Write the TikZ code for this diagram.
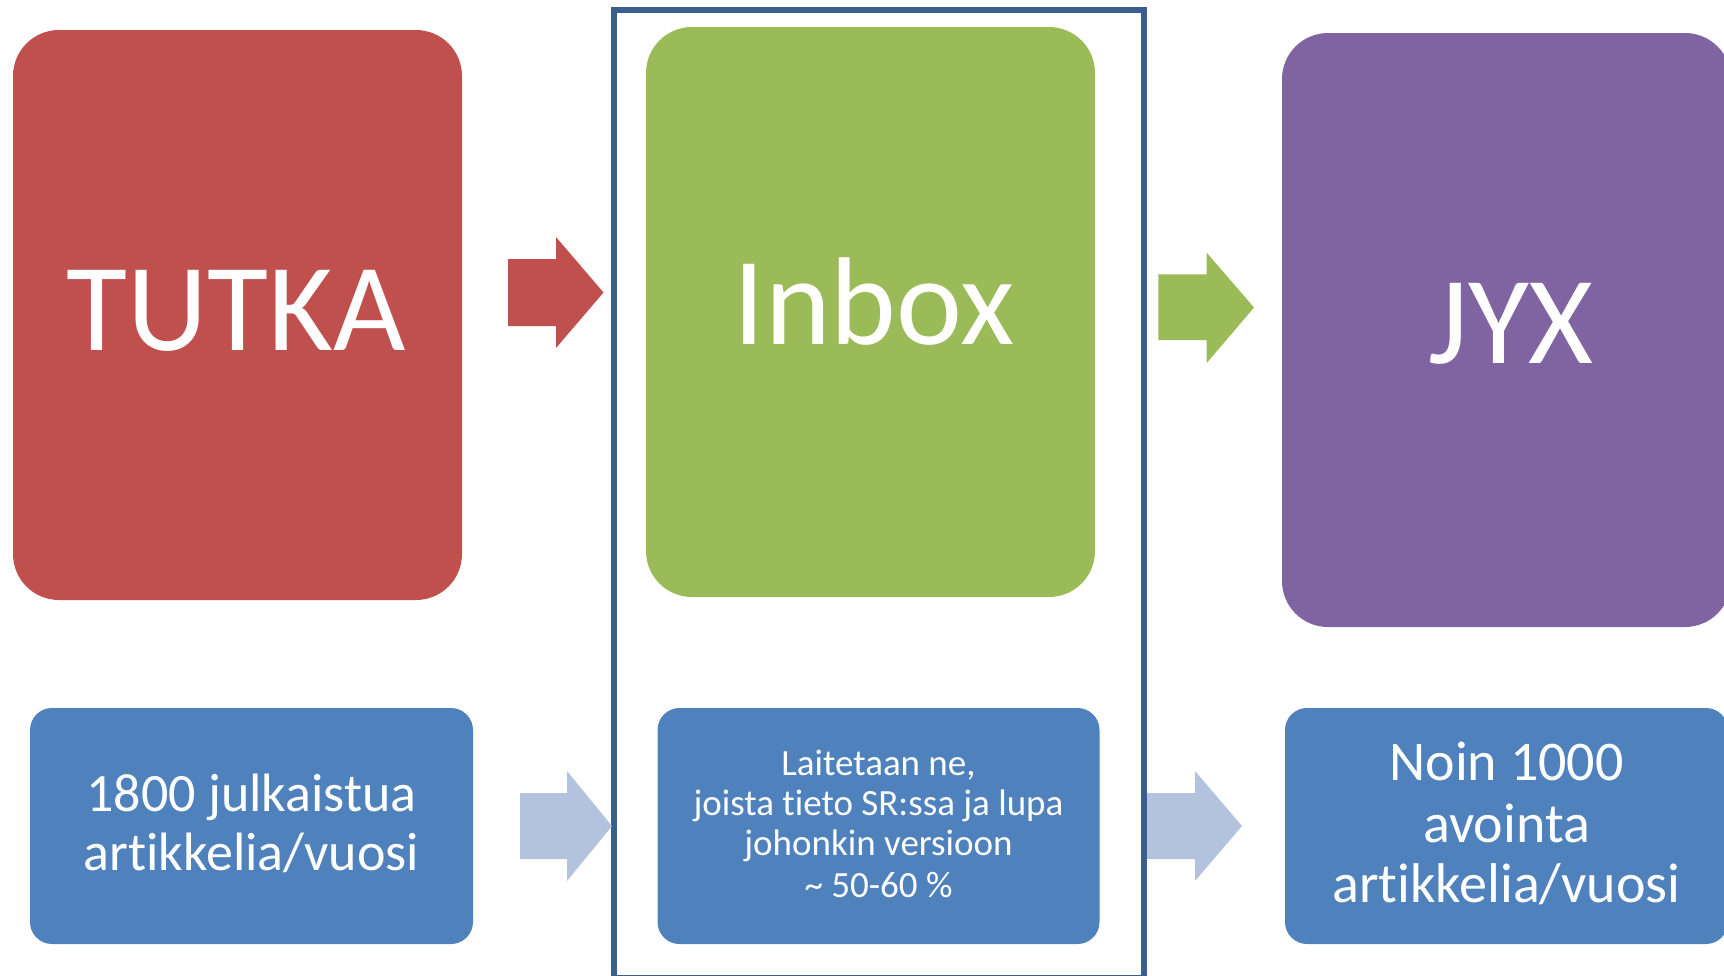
\documentclass[tikz,border=0pt]{standalone}
\usepackage{fontspec}
\setmainfont{Carlito}[Ligatures=NoCommon]
\definecolor{cred}{HTML}{C0504D}
\definecolor{cgreen}{HTML}{9BBB59}
\definecolor{cpurple}{HTML}{8064A2}
\definecolor{cblue}{HTML}{4F81BD}
\definecolor{clight}{HTML}{B3C3DE}
\definecolor{cframe}{HTML}{3A5F8E}
\begin{document}
\begin{tikzpicture}[x=1pt,y=-1pt,
  bigbox/.style={rectangle, rounded corners=46pt, draw=none, minimum width=449pt, inner sep=0pt},
  smallbox/.style={rectangle, rounded corners=22pt, draw=none, fill=cblue, minimum height=236pt, inner sep=0pt},
  bigtext/.style={text=white, anchor=base, inner sep=0pt, font=\fontsize{125}{150}\selectfont},
  lefttext/.style={text=white, anchor=base, inner sep=0pt, font=\fontsize{54}{60}\selectfont},
  midtext/.style={text=white, anchor=base, inner sep=0pt, font=\fontsize{37}{41}\selectfont},
  righttext/.style={text=white, anchor=base, inner sep=0pt, font=\fontsize{56}{62}\selectfont},
  framebox/.style={draw=cframe, line width=5.5pt}
]
\useasboundingbox (0,0) rectangle (1724,975);

% frame around the middle column
\draw[framebox] (614.2,10) rectangle (1144.2,978);

% top boxes
\node[bigbox, fill=cred, minimum height=570pt] (tutka) at (237.5,315) {};
\node[bigbox, fill=cgreen, minimum height=570pt] (inbox) at (870.5,312) {};
\node[bigbox, fill=cpurple, minimum height=594pt] (jyx) at (1506.5,330) {};

\node[bigtext] (tutkaT) at (236.5,350.7) {TUTKA};
\node[bigtext] (inboxT) at (874,344) {Inbox};
\node[bigtext] (jyxT) at (1511,363) {JYX};

% bottom boxes
\node[smallbox, minimum width=443pt] (b1) at (251.5,826) {};
\node[smallbox, minimum width=442pt] (b2) at (878.5,826) {};
\node[smallbox, minimum width=443pt] (b3) at (1506.5,826) {};

\node[lefttext] (b1l1) at (251.5,811.7) {1800 julkaistua};
\node[lefttext] (b1l2) at (251.5,870.7) {artikkelia/vuosi};

\node[midtext] (b2l1) at (878.5,775) {Laitetaan ne,};
\node[midtext] (b2l2) at (878.5,815) {joista tieto SR:ssa ja lupa};
\node[midtext] (b2l3) at (878.5,855.7) {johonkin versioon};
\node[midtext] (b2l4) at (878.5,897) {\char"007E{} 50-60 \%};

\node[righttext] (b3l1) at (1506.5,780.7) {Noin 1000};
\node[righttext] (b3l2) at (1506.5,842) {avointa};
\node[righttext] (b3l3) at (1506.5,902.7) {artikkelia/vuosi};

% block arrows, top row
\fill[cred] (508,259) -- (556,259) -- (556,237) -- (603.5,292.5) -- (556,348) -- (556,326) -- (508,326) -- cycle;
\fill[cgreen] (1158.3,274.3) -- (1206.7,274.3) -- (1206.7,252.7) -- (1254,307.5) -- (1206.7,363) -- (1206.7,340) -- (1158.3,340) -- cycle;

% block arrows, bottom row
\fill[clight] (520,793) -- (567,793) -- (567,771) -- (612,826) -- (567,881) -- (567,859) -- (520,859) -- cycle;
\fill[clight] (1147,793) -- (1195,793) -- (1195,771) -- (1242,826) -- (1195,881) -- (1195,859) -- (1147,859) -- cycle;
\end{tikzpicture}
\end{document}
